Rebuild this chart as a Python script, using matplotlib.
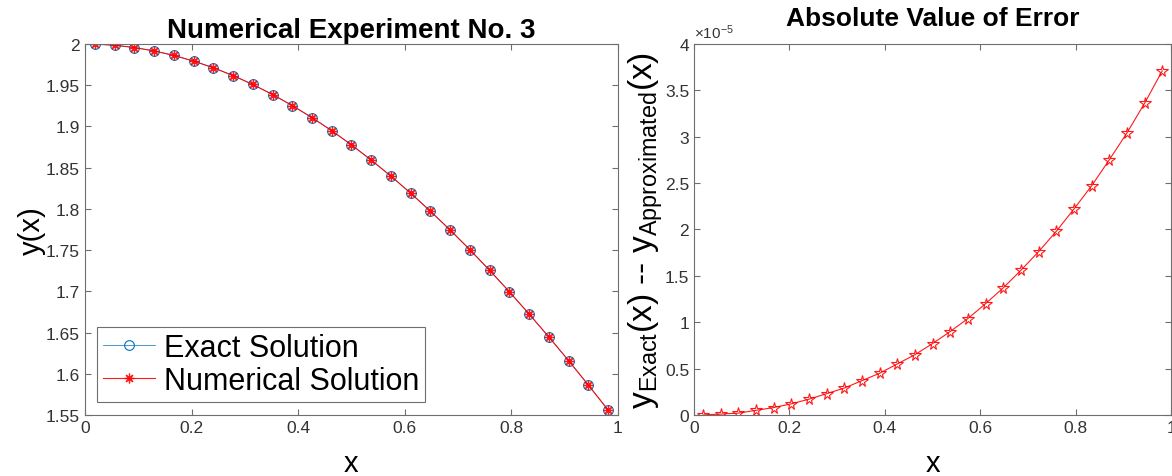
import matplotlib
matplotlib.use("Agg")
import matplotlib.pyplot as plt
from matplotlib.ticker import FormatStrFormatter

plt.rcParams['font.family'] = ['Liberation Sans', 'DejaVu Sans']
plt.rcParams['mathtext.default'] = 'regular'

# grid points (27 nodes)
x = [0.0185, 0.0556, 0.0926, 0.1296, 0.1667, 0.2037, 0.2407, 0.2778, 0.3148,
     0.3519, 0.3889, 0.4259, 0.4630, 0.5000, 0.5370, 0.5741, 0.6111, 0.6481,
     0.6852, 0.7222, 0.7593, 0.7963, 0.8333, 0.8704, 0.9074, 0.9444, 0.9815]

y_exact = [1.9998, 1.9985, 1.9957, 1.9916, 1.9861, 1.9793, 1.9712, 1.9617, 1.9509,
           1.9387, 1.9253, 1.9107, 1.8948, 1.8776, 1.8592, 1.8397, 1.8190, 1.7972,
           1.7743, 1.7504, 1.7254, 1.6994, 1.6724, 1.6446, 1.6159, 1.5863, 1.5560]

# absolute error, in units of 1e-5
err = [0.00, 0.01, 0.02, 0.05, 0.08, 0.12, 0.17, 0.23, 0.29,
       0.37, 0.45, 0.55, 0.65, 0.77, 0.90, 1.04, 1.20, 1.37,
       1.56, 1.76, 1.98, 2.22, 2.47, 2.75, 3.04, 3.36, 3.71]

y_num = [a - e * 1e-5 for a, e in zip(y_exact, err)]

blue = '#0072BD'
axcol = '#6e6e6e'
txtcol = '#333333'
asterisk = (8, 2, 0)

fig = plt.figure(figsize=(11.72, 4.77), dpi=100)
ax1 = fig.add_axes([0.0725, 0.1279, 0.4548, 0.7778])
ax2 = fig.add_axes([0.5922, 0.1279, 0.4070, 0.7778])

def style(ax):
    for s in ax.spines.values():
        s.set_color(axcol)
        s.set_linewidth(0.8)
    ax.tick_params(direction='in', top=True, right=True, length=4,
                   color=axcol, labelcolor=txtcol, labelsize=12.5, width=0.8)

# left panel
ax1.plot(x, y_exact, color=blue, marker='o', markerfacecolor='none',
         markersize=7, markeredgewidth=0.8, linewidth=0.5, label='Exact Solution')
ax1.plot(x, y_num, color='red', marker=asterisk, markersize=7, markeredgewidth=0.9,
         linewidth=0.8, alpha=0.9, label='Numerical Solution')
ax1.set_xlim(0, 1)
ax1.set_ylim(1.55, 2)
ax1.set_xticks([0, 0.2, 0.4, 0.6, 0.8, 1])
ax1.set_yticks([1.55, 1.6, 1.65, 1.7, 1.75, 1.8, 1.85, 1.9, 1.95, 2])
ax1.xaxis.set_major_formatter(FormatStrFormatter('%g'))
ax1.yaxis.set_major_formatter(FormatStrFormatter('%g'))
style(ax1)
ax1.set_title('Numerical Experiment No. 3', fontsize=20, fontweight='bold', pad=5)
ax1.set_xlabel('x', fontsize=21, labelpad=10)
ax1.set_ylabel('y(x)', fontsize=21, labelpad=0)
leg = ax1.legend(loc='lower left', bbox_to_anchor=(0.022, 0.035), borderaxespad=0,
                 fontsize=22, fancybox=False, framealpha=1, edgecolor=axcol,
                 handlelength=1.7, labelspacing=0.1, borderpad=0.2,
                 handletextpad=0.3)
leg.get_frame().set_linewidth(0.8)

# right panel
ax2.plot(x, err, color='red', marker='*', markerfacecolor='none',
         markersize=8.5, markeredgewidth=0.8, linewidth=0.8, alpha=0.9)
ax2.set_xlim(0, 1)
ax2.set_ylim(0, 4)
ax2.set_xticks([0, 0.2, 0.4, 0.6, 0.8, 1])
ax2.set_yticks([0, 0.5, 1, 1.5, 2, 2.5, 3, 3.5, 4])
ax2.xaxis.set_major_formatter(FormatStrFormatter('%g'))
ax2.yaxis.set_major_formatter(FormatStrFormatter('%g'))
style(ax2)
ax2.text(0.0, 1.008, r'$\times 10^{-5}$', transform=ax2.transAxes,
         fontsize=11, color=txtcol, ha='left', va='bottom')
ax2.set_title('Absolute Value of Error', fontsize=19, fontweight='bold', pad=14)
ax2.set_xlabel('x', fontsize=21, labelpad=10)
ax2.set_ylabel(r'$y_{Exact}(x)$ -- $y_{Approximated}(x)$', fontsize=24, labelpad=0)

fig.savefig('out.png', dpi=100)
